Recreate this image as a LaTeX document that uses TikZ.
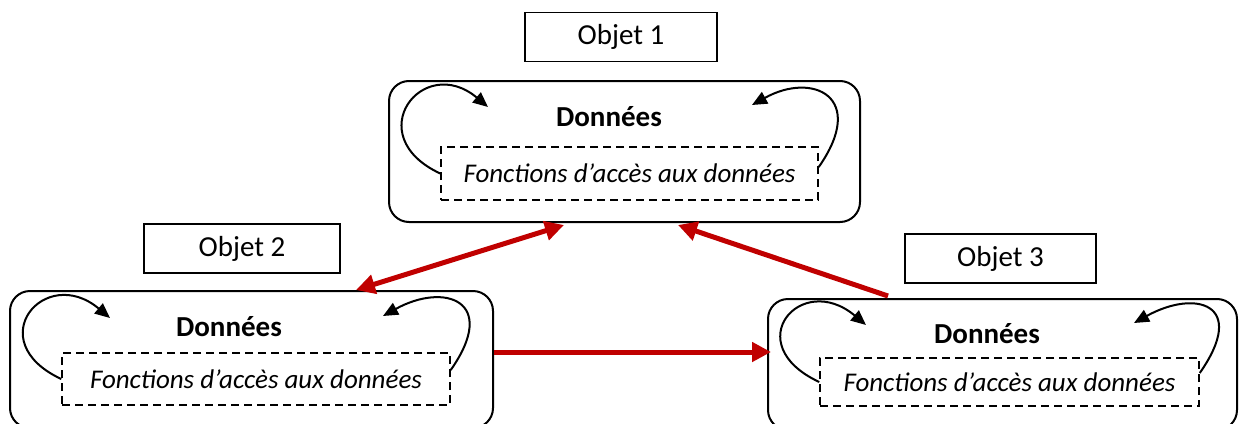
\documentclass[tikz,border=0pt]{standalone}
\usepackage{fontspec}
\setmainfont{Carlito}
\usetikzlibrary{arrows.meta}
\definecolor{rougefonce}{RGB}{192,0,0}

\begin{document}
\begin{tikzpicture}[x=1pt,y=-1pt,
      every node/.style = {font=\fontsize{29}{34}\selectfont, inner sep=0pt},
      objet/.style = {draw, line width=1.5pt, minimum height=49pt},
      bloc/.style = {draw, line width=2pt, rounded corners=20pt},
      donnees/.style = {font=\fontsize{29}{34}\selectfont\bfseries},
      fonctions/.style = {draw, line width=1.5pt, dash pattern=on 8pt off 5pt,
        font=\fontsize{27}{32}\selectfont\itshape},
      boucle/.style = {line width=2pt, -{Triangle[length=15pt,width=13pt]}},
      lien/.style = {rougefonce, line width=5pt, -{Triangle[length=19pt,width=19pt]}}]
  \useasboundingbox (0,0) rectangle (1239,423);
  % les trois objets
  \node[bloc, minimum width=471pt, minimum height=141pt] (bloc1) at (624.5,151.5) {};
  \node[bloc, minimum width=483pt, minimum height=137pt] (bloc2) at (251.5,359.5) {};
  \node[bloc, minimum width=469pt, minimum height=131pt] (bloc3) at (1002.5,364.5) {};
  \node[objet, minimum width=192pt] (obj1) at (621,37) {Objet 1};
  \node[objet, minimum width=196pt] (obj2) at (242,248.5) {Objet 2};
  \node[objet, minimum width=191pt] (obj3) at (1000.5,258.5) {Objet 3};
  \node[donnees] (d1) at (609,117) {Données};
  \node[donnees] (d2) at (229,327) {Données};
  \node[donnees] (d3) at (987,334) {Données};
  \node[fonctions, minimum width=377pt, minimum height=53pt] (f1) at (629.5,173.5) {Fonctions d’accès aux données};
  \node[fonctions, minimum width=388pt, minimum height=52pt] (f2) at (256,379) {Fonctions d’accès aux données};
  \node[fonctions, minimum width=379pt, minimum height=48pt] (f3) at (1009.5,382) {Fonctions d’accès aux données};
  % pointes des boucles
  \coordinate (p1g) at (488,107);
  \coordinate (p1d) at (752,105);
  \coordinate (p2g) at (110,318);
  \coordinate (p2d) at (383,316);
  \coordinate (p3g) at (866,325);
  \coordinate (p3d) at (1134,323);
  \draw[boucle] (f1.west) .. controls +(155:90pt) and +(140:85pt) .. (p1g);
  \draw[boucle] ([yshift=6.5pt]f1.east) .. controls +(55:85pt) and +(29:70pt) .. (p1d);
  \draw[boucle] (f2.west) .. controls +(155:90pt) and +(140:85pt) .. (p2g);
  \draw[boucle] ([yshift=9pt]f2.east) .. controls +(55:85pt) and +(29:70pt) .. (p2d);
  \draw[boucle] (f3.west) .. controls +(155:90pt) and +(140:85pt) .. (p3g);
  \draw[boucle] ([yshift=9pt]f3.east) .. controls +(55:85pt) and +(29:70pt) .. (p3d);
  % messages
  \draw[lien, {Triangle[length=19pt,width=19pt]}-{Triangle[length=19pt,width=19pt]}] ([xshift=104.5pt]bloc2.north) -- ([xshift=-60.5pt,yshift=-2pt]bloc1.south);
  \draw[lien] ([xshift=-114.5pt,yshift=2pt]bloc3.north) -- ([xshift=53.5pt,yshift=-2pt]bloc1.south);
  \draw[lien] ([yshift=7.5pt]bloc2.east) -- ([xshift=4pt,yshift=12.5pt]bloc3.west);
\end{tikzpicture}
\end{document}
